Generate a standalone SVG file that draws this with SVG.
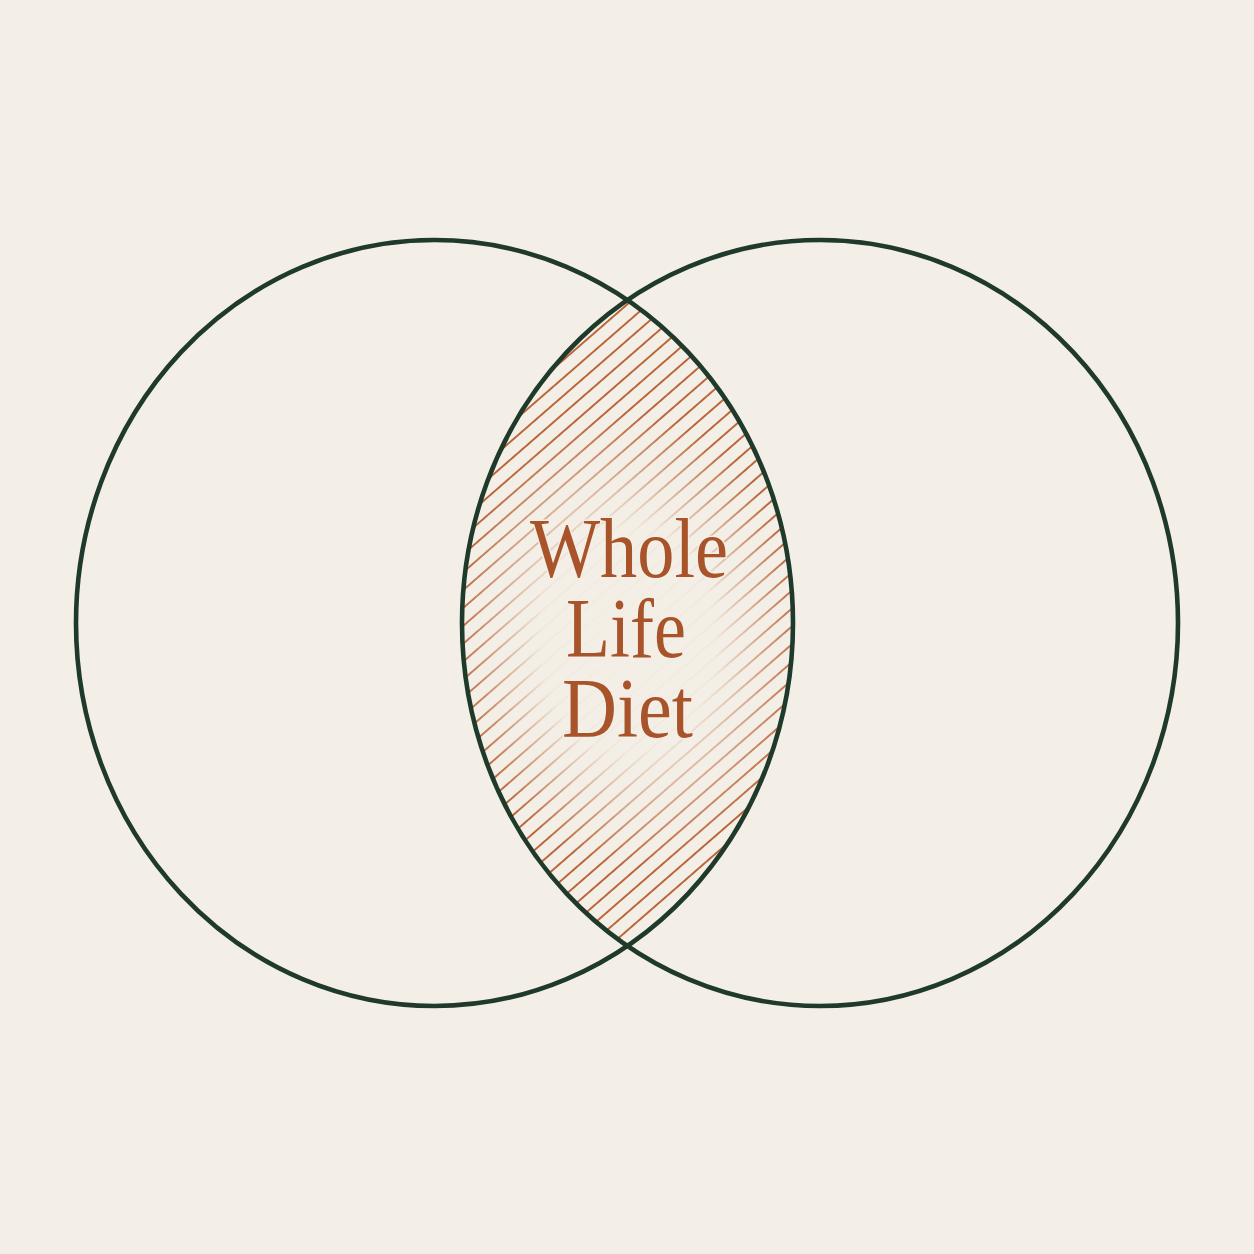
<svg xmlns="http://www.w3.org/2000/svg" width="1254" height="1254" viewBox="0 0 1254 1254">
  <style>
    .ring { fill: none; stroke: #1f3a2b; stroke-width: 4.6; }
    .label { font-family: "Liberation Serif", "DejaVu Serif", serif; font-size: 84px; fill: #a8532a; text-anchor: middle; stroke: #f4efe6; stroke-width: 3; paint-order: stroke; }
  </style>
  <defs>
    <pattern id="hatch" patternUnits="userSpaceOnUse" width="20" height="13.5" patternTransform="rotate(-41)">
      <line x1="-2" y1="6.75" x2="22" y2="6.75" stroke="#b65a2b" stroke-width="1.8"/>
    </pattern>
    <radialGradient id="fade" cx="0.5" cy="0.5" r="0.5">
      <stop offset="0" stop-color="#000" stop-opacity="1"/>
      <stop offset="0.5" stop-color="#000" stop-opacity="0.95"/>
      <stop offset="1" stop-color="#000" stop-opacity="0"/>
    </radialGradient>
    <mask id="fadeMask" maskUnits="userSpaceOnUse" x="0" y="0" width="1254" height="1254">
      <rect x="0" y="0" width="1254" height="1254" fill="#fff"/>
      <ellipse cx="628" cy="640" rx="175" ry="225" fill="url(#fade)"/>
    </mask>
    <clipPath id="lensClip">
      <path d="M627.25,300.3 A358,383 0 0,0 627.25,945.7 A358.5,383 0 0,0 627.25,300.3 Z"/>
    </clipPath>
  </defs>
  <rect x="0" y="0" width="1254" height="1254" fill="#f4efe6"/>
  <g id="intersection">
    <g clip-path="url(#lensClip)">
      <rect x="440" y="280" width="380" height="690" fill="url(#hatch)" mask="url(#fadeMask)"/>
    </g>
    <text class="label" x="629" y="577" textLength="198" lengthAdjust="spacingAndGlyphs">Whole</text>
    <text class="label" x="626" y="657" textLength="120" lengthAdjust="spacingAndGlyphs">Life</text>
    <text class="label" x="627.5" y="737" textLength="131" lengthAdjust="spacingAndGlyphs">Diet</text>
  </g>
  <g id="left-set">
    <ellipse class="ring" cx="434.5" cy="623" rx="358.5" ry="383"/>
  </g>
  <g id="right-set">
    <ellipse class="ring" cx="820" cy="623" rx="358" ry="383"/>
  </g>
  <g id="connectors"/>
</svg>
